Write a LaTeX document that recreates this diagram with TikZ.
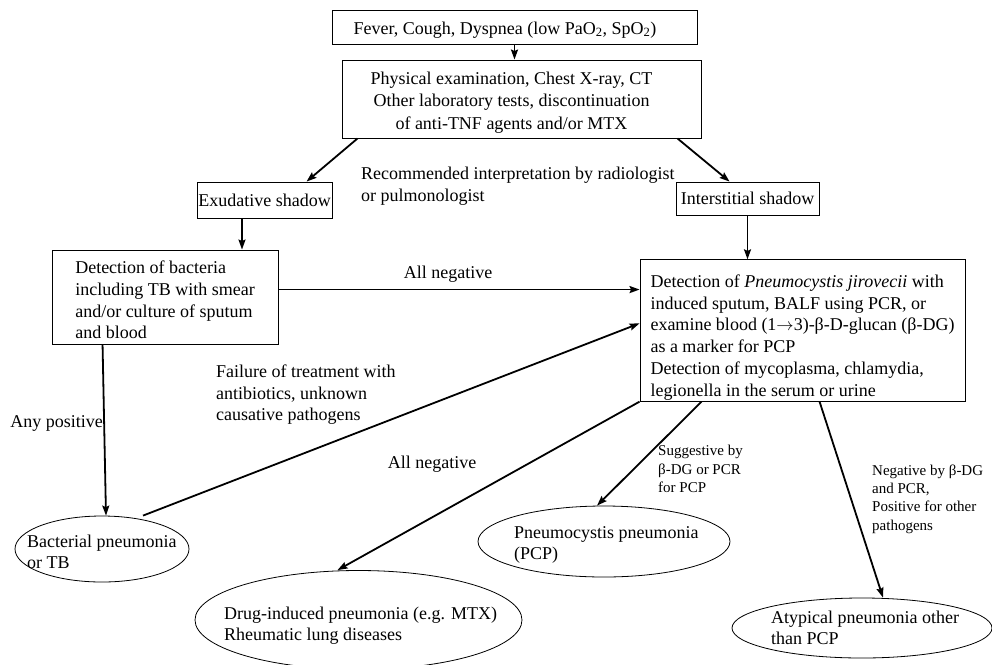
\documentclass[tikz,border=0pt]{standalone}
\usepackage{fontspec}
\setmainfont{Liberation Serif}
\usetikzlibrary{shapes.geometric,arrows.meta,calc}
\begin{document}
\begin{tikzpicture}[x=1pt,y=-1pt,
  box/.style={draw,line width=0.9pt,rectangle,inner sep=1pt,font=\fontsize{18}{21.8}\selectfont},
  oval/.style={draw,line width=0.8pt,ellipse,inner sep=0pt},
  txt/.style={inner sep=0pt,align=left,font=\fontsize{18}{21.5}\selectfont},
  small/.style={inner sep=0pt,align=left,font=\fontsize{15}{18.3}\selectfont},
  arr/.style={line width=1.8pt,-{Stealth[length=10pt,width=7pt,inset=1.5pt]}}]
\useasboundingbox (0,0) rectangle (992,664);

% boxes
\node[box,minimum width=365,minimum height=34] (b1) at (514.5,27) {\rule{0pt}{18pt}Fever, Cough, Dyspnea (low PaO\textsubscript{2}, SpO\textsubscript{2})\hspace*{19pt}};
\node[box,minimum width=359,minimum height=78] (b2) at (521.5,99) {\begin{tabular}{@{}c@{}}\rule{0pt}{22pt}Physical examination, Chest X-ray, CT\\[0.7pt]Other laboratory tests, discontinuation\\[0.7pt]of anti-TNF agents and/or MTX\end{tabular}\hspace*{20pt}};
\node[box,minimum width=135,minimum height=36] (exud) at (264.5,200) {Exudative shadow};
\node[box,minimum width=143,minimum height=33] (inter) at (747.5,198.5) {Interstitial shadow};
\node[box,align=left,minimum width=226,minimum height=94] (det) at (165,297) {\rule{0pt}{18.5pt}Detection of bacteria\\including TB with smear\\and/or culture of sputum\\and blood};
\node[box,align=left,minimum width=325,minimum height=135] (pj) at (802.5,330.5) {\rule{0pt}{26.5pt}Detection of \textit{Pneumocystis jirovecii} with\\induced sputum, BALF using PCR, or\\examine blood (1\ensuremath{\rightarrow}3)-β-D-glucan (β-DG)\\as a marker for PCP\\Detection of mycoplasma, chlamydia,\\legionella in the serum or urine};

% ellipses
\node[oval,minimum width=174,minimum height=66] (bact) at (102,549) {};
\node[txt,anchor=west] (bactt) at (27,552) {Bacterial pneumonia\\or TB};
\node[oval,minimum width=252,minimum height=71] (pcp) at (604,541.5) {};
\node[txt,anchor=west] (pcpt) at (514,545) {Pneumocystis pneumonia\\(PCP)};
\node[oval,minimum width=327,minimum height=99] (drug) at (358.5,620) {};
\node[txt,anchor=west] (drugt) at (224,625.5) {Drug-induced pneumonia (e.g. MTX)\\Rheumatic lung diseases};
\node[oval,minimum width=260,minimum height=60] (atyp) at (862,628) {};
\node[txt,anchor=west] (atypt) at (771,628) {Atypical pneumonia other\\than PCP};

% free labels
\node[txt,anchor=west] (rec) at (361,186) {Recommended interpretation by radiologist\\or pulmonologist};
\node[txt,anchor=east] (anyp) at (103,423) {Any positive};
\node[txt,anchor=west] (fail) at (216,395) {Failure of treatment with\\antibiotics, unknown\\causative pathogens};
\node[txt] (neg2) at (432,464) {All negative};
\node[small,anchor=west] (sugg) at (658,469) {Suggestive by\\β-DG or PCR\\for PCP};
\node[small,anchor=west] (negb) at (872,499) {Negative by β-DG\\and PCR,\\Positive for other\\pathogens};

% connectors
\draw[arr] (b1.south) -- (b1.south |- b2.north);
\draw[arr] ([xshift=16]b2.south west) -- ([xshift=110]exud.north west);
\draw[arr] ([xshift=-24]b2.south east) -- ([xshift=54]inter.north west);
\draw[arr] ([xshift=-22.5]exud.south) -- ([xshift=-22.5]exud.south |- det.north);
\draw[arr] (inter.south) -- (inter.south |- pj.north);
\draw[arr] ([yshift=-40]det.north east) -- node[txt,above=6pt,pos=0.47] (neg1) {All negative} ([yshift=-40]det.north east -| pj.west);
\draw[arr] ([xshift=51]det.south west) -- ([xshift=4]bact.north);
\draw[arr] ([xshift=41]bact.north) -- ([yshift=-64]pj.north west);
\draw[arr] (pj.south west) -- ([xshift=-21]drug.north);
\draw[arr] ([xshift=62]pj.south west) -- ([xshift=-7]pcp.north);
\draw[arr] ([xshift=180]pj.south west) -- ([xshift=21]atyp.north);
\end{tikzpicture}
\end{document}
